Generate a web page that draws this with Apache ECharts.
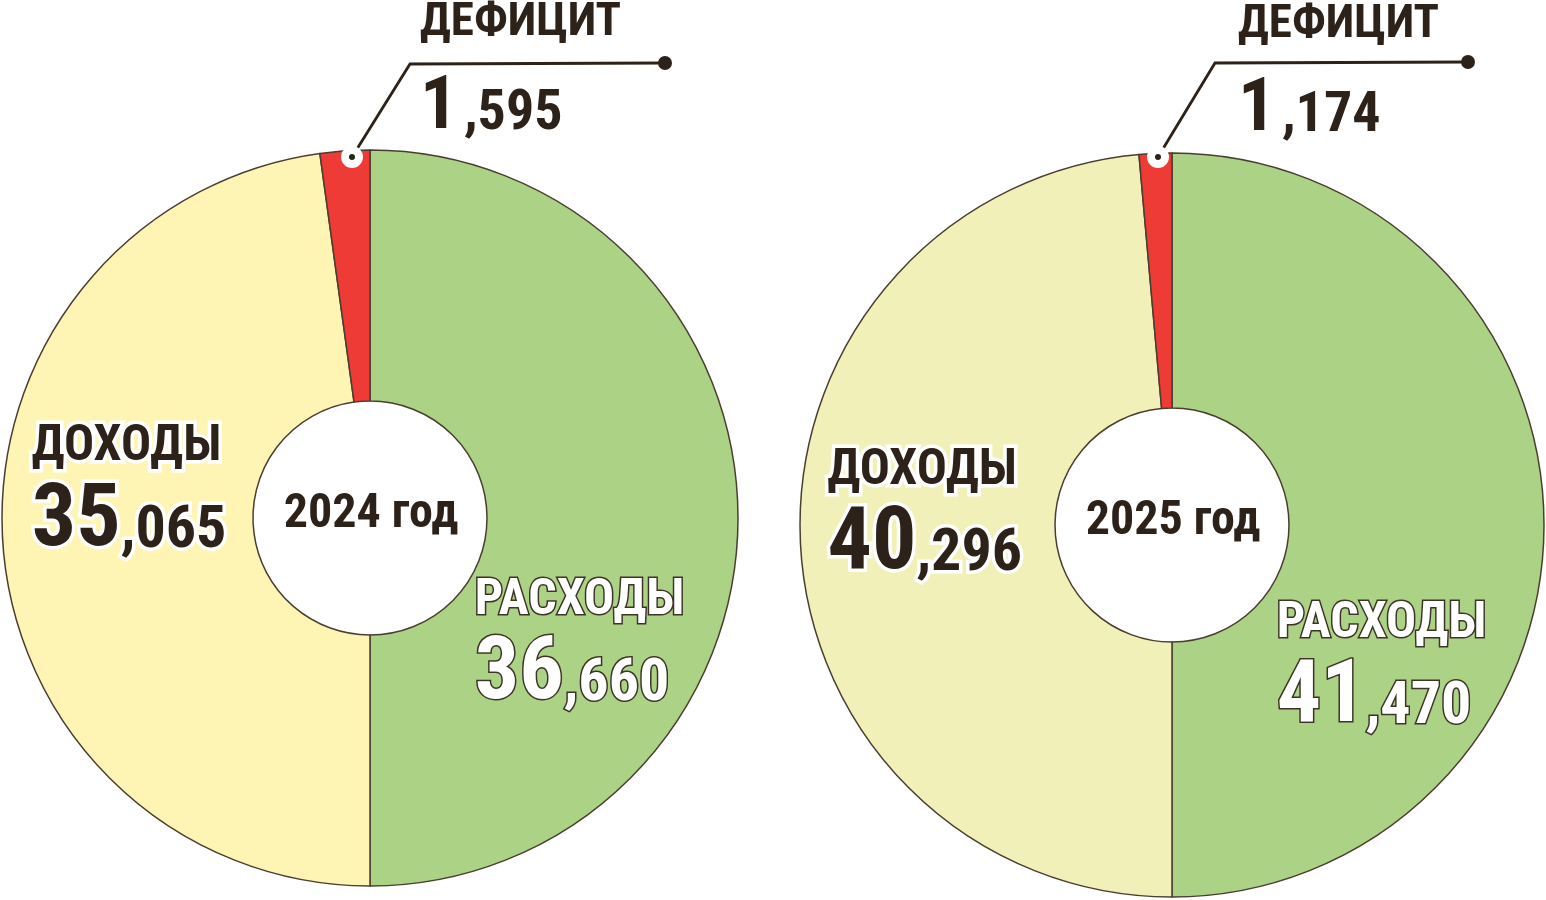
<!DOCTYPE html>
<html><head><meta charset="utf-8">
<script src="https://cdn.jsdelivr.net/npm/echarts@6/dist/echarts.min.js"></script>
<style>html,body{margin:0;padding:0;background:#fff}#c{width:1546px;height:900px}</style>
</head><body><div id="c"></div>
<script>
// ---- data ----
const years = ['2024 год', '2025 год'];
const categories = ['РАСХОДЫ', 'ДОХОДЫ', 'ДЕФИЦИТ'];
const values2024 = [36.660, 35.065, 1.595];
const values2025 = [41.470, 40.296, 1.174];

// ---- style ----
const FONT = '"Roboto Condensed", "Open Sans Condensed", "DejaVu Sans Condensed", sans-serif';
const DARK = '#2c2219';
const EDGE = '#4a3e31';
const colorsL = ['#acd285', '#fef5b4', '#ee3b36'];
const colorsR = ['#acd285', '#f0f0b8', '#ee3b36'];

function numRich(v) {
  const parts = v.toFixed(3).split('.');
  return '{b|' + parts[0] + '}{s|,' + parts[1] + '}';
}
function richFor(kind) {
  let base;
  if (kind === 0) base = { color: '#fff', textBorderColor: '#3d3328', textBorderWidth: 3 };
  else if (kind === 1) base = { color: DARK, textBorderColor: '#fff', textBorderWidth: 7 };
  else base = { color: DARK };
  const ff = { fontFamily: FONT, fontWeight: 'bold', align: 'left' };
  if (kind === 2) {
    return {
      n: Object.assign({}, base, ff, { fontSize: 47, lineHeight: 77, verticalAlign: 'top' }),
      b: Object.assign({}, base, ff, { fontSize: 75, lineHeight: 70, verticalAlign: 'bottom' }),
      s: Object.assign({}, base, ff, { fontSize: 56, lineHeight: 70, verticalAlign: 'bottom', padding: [0, 0, 4, 6] })
    };
  }
  return {
    n: Object.assign({}, base, ff, { fontSize: 50, lineHeight: 62 }),
    b: Object.assign({}, base, ff, { fontSize: 88, lineHeight: 88, verticalAlign: 'bottom' }),
    s: Object.assign({}, base, ff, { fontSize: 60, lineHeight: 88, verticalAlign: 'bottom', padding: [0, 0, 5, 0] })
  };
}

function buildData(values, colors) {
  return values.map((v, i) => ({
    name: categories[i],
    value: v,
    itemStyle: { color: colors[i] },
    label: {
      show: true,
      position: i === 2 ? 'outside' : 'inside',
      formatter: '{n|' + categories[i] + '}\n' + numRich(v),
      rich: richFor(i)
    },
    labelLine: { show: false }
  }));
}

function pieSeries(values, colors, center, radius, offsets) {
  return {
    type: 'pie',
    center: center,
    radius: radius,
    startAngle: 90,
    clockwise: true,
    silent: true,
    animation: false,
    avoidLabelOverlap: false,
    itemStyle: { borderColor: EDGE, borderWidth: 1.5 },
    data: buildData(values, colors),
    labelLayout: function (p) { return offsets[p.dataIndex]; }
  };
}

const chart = echarts.init(document.getElementById('c'), null, { renderer: 'canvas' });

function leader(pts, start, end) {
  return [
    { type: 'polyline', z: 100, shape: { points: pts }, style: { stroke: DARK, lineWidth: 2.8, fill: null } },
    { type: 'circle', z: 101, shape: { cx: start[0], cy: start[1], r: 7 }, style: { fill: DARK, stroke: '#fff', lineWidth: 8 } },
    { type: 'circle', z: 101, shape: { cx: end[0], cy: end[1], r: 7 }, style: { fill: DARK } }
  ];
}

const option = {
  backgroundColor: '#fff',
  series: [
    pieSeries(values2024, colorsL, [370, 518], [117, 368], [
      { dx: -36, dy: 127 },
      { dx: 4, dy: -43 },
      { x: 420, y: 0, align: 'left', verticalAlign: 'top' }
    ]),
    pieSeries(values2025, colorsR, [1172, 525], [117, 372], [
      { dx: -38, dy: 143 },
      { dx: 0, dy: -21 },
      { x: 1238, y: 2, align: 'left', verticalAlign: 'top' }
    ])
  ],
  graphic: [].concat(
    leader([[352, 157], [410, 64], [665, 63]], [352, 157], [665, 63]),
    leader([[1158, 157], [1215, 63], [1468, 62]], [1158, 157], [1468, 62]),
    [
      { type: 'text', z: 100, x: 371, y: 515, style: { text: years[0], align: 'center', verticalAlign: 'middle', fill: DARK, font: 'bold 48px ' + FONT } },
      { type: 'text', z: 100, x: 1173, y: 522, style: { text: years[1], align: 'center', verticalAlign: 'middle', fill: DARK, font: 'bold 48px ' + FONT } }
    ]
  )
};
chart.setOption(option);
</script>
</body></html>
